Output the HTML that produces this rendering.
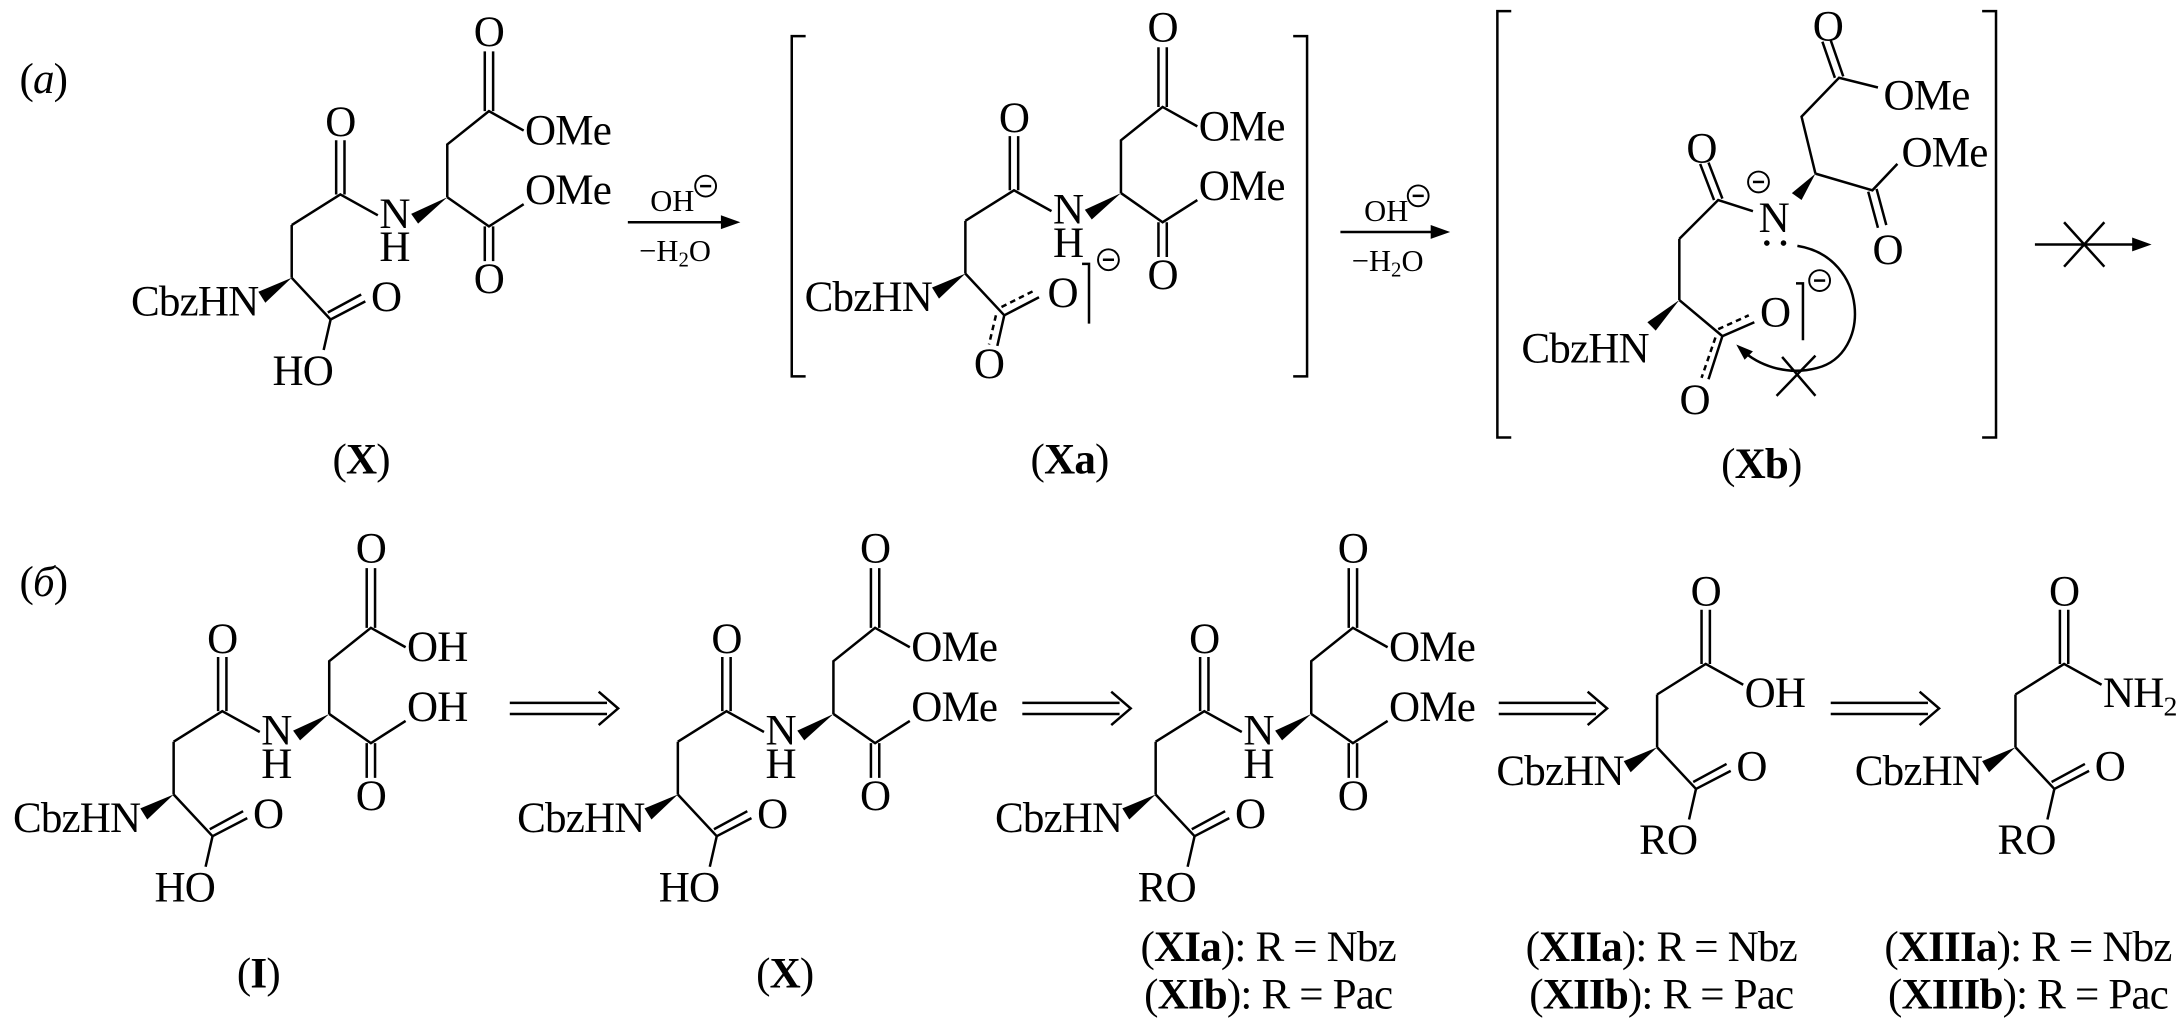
<!DOCTYPE html>
<html><head><meta charset="utf-8"><style>
html,body{margin:0;padding:0;background:#fff}
svg{display:block}
text{font-family:"Liberation Serif",serif;font-size:31px;letter-spacing:-0.6px;fill:#000}
.b{fill:none;stroke:#000;stroke-width:1.8}
.d{fill:none;stroke:#000;stroke-width:1.8;stroke-dasharray:4,3}
.s{font-size:22px;letter-spacing:0}
</style></head><body>
<svg width="2178" height="1023" viewBox="0 0 1568 736.5" xmlns="http://www.w3.org/2000/svg">
<defs>
<g id="core">
<path class="b" d="M210,162 L210,200 M210,162 L245,140 L272,155 M322,142 L322,104 L352,80 L377,94 M322,142 L352,163 L377,147 M349,80 L349,37 M355,80 L355,37 M349,163 L349,188 M355,163 L355,188 M242,140 L242,101 M248,140 L248,101 M210,200 L238,230"/>
<polygon points="322,142 296,154 301,161" fill="#000"/>
<polygon points="210,200 186,210 191,218" fill="#000"/>
<text x="245" y="98" text-anchor="middle">O</text>
<text x="352" y="33" text-anchor="middle">O</text>
<text x="352" y="211" text-anchor="middle">O</text>
<text x="284" y="164" text-anchor="middle">N</text>
<text x="284" y="188" text-anchor="middle">H</text>
<text x="186" y="227" text-anchor="end">CbzHN</text>
</g>
<g id="acid">
<path class="b" d="M238,230 L233,252 M238,230 L263,217 M236,225 L260,212"/>
<text x="278" y="224" text-anchor="middle">O</text>
</g>
<g id="half">
<path class="b" d="M210,162 L210,200 M210,162 L245,140 L272,155 M242,140 L242,101 M248,140 L248,101 M210,200 L238,230"/>
<polygon points="210,200 186,210 191,218" fill="#000"/>
<text x="245" y="98" text-anchor="middle">O</text>
<text x="186" y="227" text-anchor="end">CbzHN</text>
<use href="#acid"/>
<text x="218" y="277" text-anchor="middle">RO</text>
</g>
<g id="minus"><circle cx="0" cy="0" r="7.5" fill="#fff" stroke="#000" stroke-width="1.4"/><path d="M-4,0 L4,0" stroke="#000" stroke-width="1.8"/></g>
<g id="dbl"><path class="b" d="M0,-4 L70,-4 M0,4 L70,4 M64,-12 L78,0 L64,12"/></g>
</defs>

<text x="14" y="67"><tspan>(</tspan><tspan font-style="italic">a</tspan><tspan>)</tspan></text>

<g>
<use href="#core"/><use href="#acid"/>
<text x="378" y="104">OMe</text>
<text x="378" y="147">OMe</text>
<text x="218" y="277" text-anchor="middle">HO</text>
</g>
<text x="260" y="341" text-anchor="middle">(<tspan font-weight="bold">X</tspan>)</text>

<path class="b" d="M452,160 L530,160"/><path d="M533,160 L519,155 L519,165 Z" fill="#000"/>
<text x="484" y="152" text-anchor="middle" class="s">OH</text>
<use href="#minus" x="508" y="134"/>
<text x="486" y="188" text-anchor="middle" class="s">−H<tspan font-size="15" dy="4">2</tspan><tspan dy="-4">O</tspan></text>

<path class="b" d="M580,26 L570,26 L570,271 L580,271 M931,26 L941,26 L941,271 L931,271"/>
<g transform="translate(485,-3)">
<use href="#core"/>
<text x="378" y="104">OMe</text>
<text x="378" y="147">OMe</text>
<path class="b" d="M238,230 L263,217 M238,230 L233,252"/>
<path class="d" d="M236,224 L260,212 M232,230 L227,251"/>
<text x="280" y="224" text-anchor="middle">O</text>
<text x="227" y="275" text-anchor="middle">O</text>
<path class="b" d="M294,193 L299,193 L299,236"/>
<use href="#minus" x="313" y="190"/>
</g>
<text x="770" y="341" text-anchor="middle">(<tspan font-weight="bold">Xa</tspan>)</text>

<path class="b" d="M965,167 L1041,167"/><path d="M1044,167 L1030,162 L1030,172 Z" fill="#000"/>
<text x="998" y="159" text-anchor="middle" class="s">OH</text>
<use href="#minus" x="1021" y="141"/>
<text x="999" y="195" text-anchor="middle" class="s">−H<tspan font-size="15" dy="4">2</tspan><tspan dy="-4">O</tspan></text>

<path class="b" d="M1088,8 L1078,8 L1078,315 L1088,315 M1427,8 L1437,8 L1437,315 L1427,315"/>
<path class="b" d="M1209,172 L1209,216 M1209,172 L1237,144 L1262,152 M1307,125 L1297,84 L1324,56 L1352,63 M1307,125 L1348,137 L1366,118 M1234,144 L1224,118 M1240,143 L1230,117 M1321,56 L1312,30 M1327,55 L1318,29 M1345,138 L1352,164 M1351,136 L1358,162 M1209,216 L1240,242 L1263,232 M1240,242 L1230,273"/>
<path class="d" d="M1237,237 L1259,227 M1235,243 L1225,272"/>
<polygon points="1307,125 1290,139 1297,144" fill="#000"/>
<polygon points="1209,216 1186,232 1192,238" fill="#000"/>
<text x="1316" y="29" text-anchor="middle">O</text>
<text x="1356" y="79">OMe</text>
<text x="1369" y="120">OMe</text>
<text x="1359" y="190" text-anchor="middle">O</text>
<text x="1225" y="117" text-anchor="middle">O</text>
<text x="1277" y="167" text-anchor="middle">N</text>
<use href="#minus" x="1266" y="131"/>
<circle cx="1272" cy="175" r="2"/><circle cx="1284" cy="175" r="2"/>
<text x="1187" y="261" text-anchor="end">CbzHN</text>
<text x="1278" y="235" text-anchor="middle">O</text>
<text x="1220" y="298" text-anchor="middle">O</text>
<path class="b" d="M1293,204 L1298,204 L1298,245"/>
<use href="#minus" x="1310" y="202"/>
<path class="b" d="M1294,177 C1345,185 1348,255 1308,265 C1285,271 1265,262 1254,252"/>
<path d="M1250,248 L1262,253 L1256,259 Z" fill="#000"/>
<path class="b" d="M1279,285 L1307,256 M1283,257 L1307,285"/>
<text x="1268" y="344" text-anchor="middle">(<tspan font-weight="bold">Xb</tspan>)</text>

<path class="b" d="M1465,176 L1545,176 M1486,160 L1515,192 M1486,192 L1515,160"/>
<path d="M1549,176 L1535,171 L1535,181 Z" fill="#000"/>

<text x="14" y="429"><tspan>(</tspan><tspan font-style="italic">б</tspan><tspan>)</tspan></text>

<g transform="translate(-85,372)">
<use href="#core"/><use href="#acid"/>
<text x="378" y="104">OH</text>
<text x="378" y="147">OH</text>
<text x="218" y="277" text-anchor="middle">HO</text>
</g>
<text x="186" y="711" text-anchor="middle">(<tspan font-weight="bold">I</tspan>)</text>

<use href="#dbl" x="367" y="510"/>

<g transform="translate(278,372)">
<use href="#core"/><use href="#acid"/>
<text x="378" y="104">OMe</text>
<text x="378" y="147">OMe</text>
<text x="218" y="277" text-anchor="middle">HO</text>
</g>
<text x="565" y="711" text-anchor="middle">(<tspan font-weight="bold">X</tspan>)</text>

<use href="#dbl" x="736" y="510"/>

<g transform="translate(622,372)">
<use href="#core"/><use href="#acid"/>
<text x="378" y="104">OMe</text>
<text x="378" y="147">OMe</text>
<text x="218" y="277" text-anchor="middle">RO</text>
</g>
<text x="913" y="692" text-anchor="middle">(<tspan font-weight="bold">XIa</tspan>): R = Nbz</text>
<text x="913" y="726" text-anchor="middle">(<tspan font-weight="bold">XIb</tspan>): R = Pac</text>

<use href="#dbl" x="1079" y="510"/>

<g transform="translate(983,338)">
<use href="#half"/>
<text x="273" y="171">OH</text>
</g>
<text x="1196" y="692" text-anchor="middle">(<tspan font-weight="bold">XIIa</tspan>): R = Nbz</text>
<text x="1196" y="726" text-anchor="middle">(<tspan font-weight="bold">XIIb</tspan>): R = Pac</text>

<use href="#dbl" x="1318" y="510"/>

<g transform="translate(1241,338)">
<use href="#half"/>
<text x="273" y="171">NH<tspan font-size="20" dy="6">2</tspan></text>
</g>
<text x="1460" y="692" text-anchor="middle">(<tspan font-weight="bold">XIIIa</tspan>): R = Nbz</text>
<text x="1460" y="726" text-anchor="middle">(<tspan font-weight="bold">XIIIb</tspan>): R = Pac</text>
</svg>
</body></html>
